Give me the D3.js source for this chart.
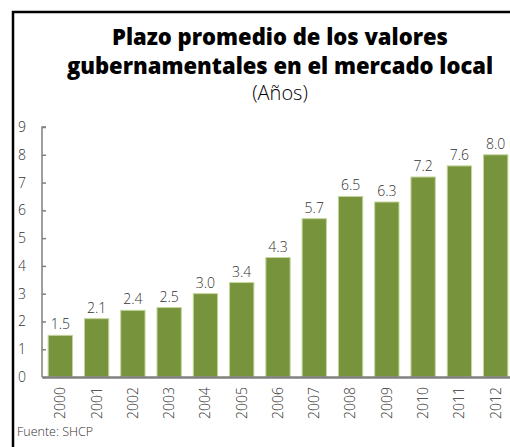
<!DOCTYPE html>
<html>
<head>
<meta charset="utf-8">
<script src="https://cdn.jsdelivr.net/npm/d3@7"></script>
<style>
  body { margin: 0; background: #fff; }
  svg { display: block; }
</style>
</head>
<body>
<svg id="chart" width="510" height="447"></svg>
<script>
const years = ["2000","2001","2002","2003","2004","2005","2006","2007","2008","2009","2010","2011","2012"];
const plazo = [1.5, 2.1, 2.4, 2.5, 3.0, 3.4, 4.3, 5.7, 6.5, 6.3, 7.2, 7.6, 8.0];
const yTicks = [0,1,2,3,4,5,6,7,8,9];

const svg = d3.select("#chart");
const font = "'Open Sans', sans-serif";
const txt = "#333";

// frame (runs off the right/bottom edge)
svg.append("path")
  .attr("d", "M13,447 L13,12 L512,12")
  .attr("fill", "none")
  .attr("stroke", "#000")
  .attr("stroke-width", 2.5);

// titles
svg.append("text").attr("x", 280).attr("y", 45)
  .attr("text-anchor", "middle").attr("font-family", font)
  .attr("font-weight", 800).attr("font-size", 22).attr("fill", "#000")
  .text("Plazo promedio de los valores");
svg.append("text").attr("x", 280).attr("y", 74)
  .attr("text-anchor", "middle").attr("font-family", font)
  .attr("font-weight", 800).attr("font-size", 22).attr("fill", "#000")
  .text("gubernamentales en el mercado local");
svg.append("text").attr("x", 280).attr("y", 100)
  .attr("text-anchor", "middle").attr("font-family", font)
  .attr("font-weight", 300).attr("font-size", 20).attr("fill", "#000")
  .text("(Años)");

const x = d3.scaleBand().domain(years).range([42, 514]).paddingInner(0.33).paddingOuter(0.17);
const y = d3.scaleLinear().domain([0, 9]).range([377, 127]);

// bars
svg.append("g").selectAll("rect")
  .data(plazo)
  .enter()
  .append("rect")
  .attr("x", (d, i) => x(years[i]))
  .attr("y", d => y(d))
  .attr("width", x.bandwidth())
  .attr("height", d => y(0) - y(d))
  .attr("fill", "#77933c")
  .attr("stroke", "#c3d69b")
  .attr("stroke-width", 1);

// value labels
svg.append("g").selectAll("text")
  .data(plazo)
  .enter()
  .append("text")
  .attr("x", (d, i) => x(years[i]) + x.bandwidth() / 2)
  .attr("y", d => y(d) - 6)
  .attr("text-anchor", "middle")
  .attr("font-family", font)
  .attr("font-weight", 300)
  .attr("font-size", 14)
  .attr("fill", txt)
  .text(d => d.toFixed(1));

// y axis
const yAxis = svg.append("g")
  .attr("transform", "translate(42,0)")
  .call(d3.axisRight(y).tickValues(yTicks).tickSize(4).tickFormat(""));
yAxis.selectAll("line, path").attr("stroke", "#808080").attr("stroke-width", 1.5);
yAxis.select("path").attr("d", `M4,${y(9)}H0V${y(0)}`);

svg.append("g").selectAll("text")
  .data(yTicks)
  .enter()
  .append("text")
  .attr("x", 22)
  .attr("y", d => y(d) + 5)
  .attr("text-anchor", "middle")
  .attr("font-family", font)
  .attr("font-weight", 300)
  .attr("font-size", 14)
  .attr("fill", txt)
  .text(d => d);

// x axis
const xAxis = svg.append("g")
  .attr("transform", `translate(0,${y(0)})`)
  .call(d3.axisBottom(x).tickSize(0).tickPadding(0));
xAxis.select("path").attr("stroke", "#808080").attr("stroke-width", 2.5);
xAxis.selectAll("text")
  .attr("font-family", font)
  .attr("font-weight", 300)
  .attr("font-size", 14)
  .attr("fill", txt)
  .attr("transform", "rotate(-90)")
  .attr("text-anchor", "end")
  .attr("dy", "0.35em")
  .attr("x", -10)
  .attr("y", 0);

// source
svg.append("text").attr("x", 17).attr("y", 436)
  .attr("font-family", font).attr("font-weight", 300).attr("font-size", 12.5).attr("fill", txt)
  .text("Fuente:  SHCP");
</script>
</body>
</html>
